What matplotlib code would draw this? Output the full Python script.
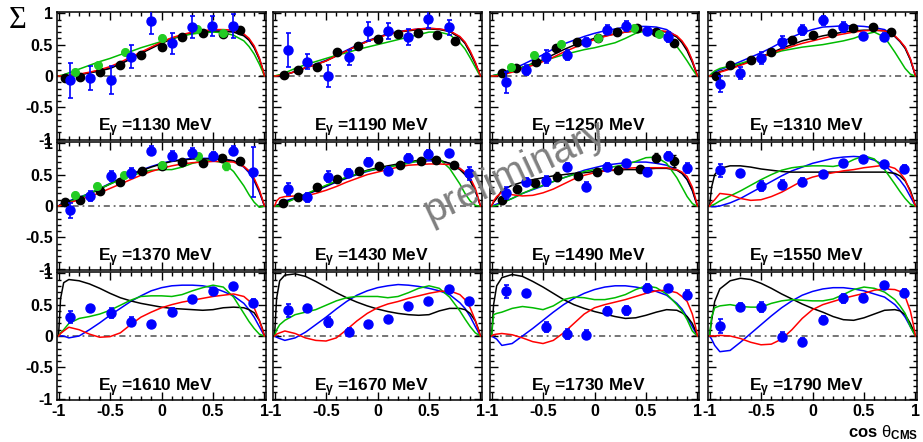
import matplotlib
matplotlib.use('Agg')
import matplotlib.pyplot as plt
from matplotlib.ticker import MultipleLocator, FuncFormatter

plt.rcParams['font.family'] = ['Liberation Sans', 'DejaVu Sans']
plt.rcParams['axes.unicode_minus'] = False
plt.rcParams['mathtext.fontset'] = 'custom'
plt.rcParams['mathtext.rm'] = 'Liberation Sans'
plt.rcParams['mathtext.bf'] = 'Liberation Sans:bold'
plt.rcParams['mathtext.it'] = 'Liberation Sans:bold'

ENERGIES = [1130, 1190, 1250, 1310, 1370, 1430, 1490, 1550, 1610, 1670, 1730, 1790]

# model curves, sampled at XC
XC = [-1.0, -0.98, -0.95, -0.9, -0.8, -0.7, -0.6, -0.5, -0.4, -0.3, -0.2, -0.1, 0.0,
      0.1, 0.2, 0.3, 0.4, 0.5, 0.6, 0.7, 0.8, 0.85, 0.9, 0.95, 0.98, 1.0]

CURVE_BLACK = [
    [0, 0, 0, 0.0, 0.02, 0.05, 0.08, 0.12, 0.19, 0.27, 0.36, 0.44, 0.52, 0.59, 0.64, 0.68, 0.70, 0.71, 0.71, 0.70, 0.64, 0.57, 0.45, 0.27, 0.12, 0],
    [0, 0, 0.01, 0.02, 0.07, 0.13, 0.18, 0.24, 0.32, 0.40, 0.48, 0.55, 0.61, 0.67, 0.70, 0.72, 0.74, 0.75, 0.74, 0.71, 0.61, 0.52, 0.37, 0.20, 0.08, 0],
    [0, 0, 0.01, 0.03, 0.08, 0.14, 0.20, 0.26, 0.34, 0.42, 0.49, 0.55, 0.60, 0.64, 0.67, 0.70, 0.72, 0.73, 0.72, 0.70, 0.62, 0.53, 0.40, 0.22, 0.09, 0],
    [0, 0.01, 0.03, 0.07, 0.12, 0.18, 0.24, 0.31, 0.37, 0.44, 0.50, 0.56, 0.60, 0.64, 0.67, 0.70, 0.72, 0.73, 0.73, 0.72, 0.63, 0.55, 0.44, 0.26, 0.11, 0],
    [0, 0.02, 0.04, 0.07, 0.13, 0.19, 0.27, 0.35, 0.43, 0.50, 0.56, 0.62, 0.67, 0.71, 0.73, 0.75, 0.75, 0.75, 0.74, 0.72, 0.63, 0.55, 0.42, 0.24, 0.10, 0],
    [0, 0.01, 0.03, 0.06, 0.12, 0.18, 0.25, 0.32, 0.39, 0.45, 0.51, 0.57, 0.61, 0.64, 0.67, 0.70, 0.73, 0.75, 0.73, 0.68, 0.58, 0.50, 0.40, 0.24, 0.10, 0],
    [0, 0.06, 0.12, 0.25, 0.33, 0.38, 0.42, 0.45, 0.48, 0.50, 0.52, 0.53, 0.55, 0.56, 0.57, 0.58, 0.58, 0.59, 0.60, 0.60, 0.57, 0.52, 0.42, 0.25, 0.10, 0],
    [0, 0.30, 0.50, 0.60, 0.64, 0.64, 0.62, 0.59, 0.57, 0.55, 0.54, 0.54, 0.54, 0.54, 0.54, 0.54, 0.54, 0.54, 0.54, 0.54, 0.52, 0.48, 0.40, 0.25, 0.11, 0],
    [0, 0.60, 0.85, 0.90, 0.88, 0.83, 0.76, 0.68, 0.61, 0.56, 0.52, 0.49, 0.46, 0.44, 0.43, 0.42, 0.41, 0.42, 0.45, 0.46, 0.45, 0.42, 0.37, 0.25, 0.12, 0],
    [0, 0.60, 0.88, 0.97, 0.99, 0.95, 0.87, 0.78, 0.69, 0.61, 0.54, 0.48, 0.43, 0.39, 0.36, 0.34, 0.33, 0.34, 0.40, 0.44, 0.44, 0.42, 0.36, 0.24, 0.11, 0],
    [0, 0.50, 0.80, 0.93, 0.98, 0.95, 0.87, 0.78, 0.68, 0.58, 0.50, 0.44, 0.39, 0.35, 0.31, 0.28, 0.29, 0.33, 0.38, 0.42, 0.41, 0.37, 0.31, 0.20, 0.09, 0],
    [0, 0.25, 0.55, 0.75, 0.88, 0.92, 0.90, 0.84, 0.76, 0.67, 0.59, 0.51, 0.44, 0.38, 0.31, 0.26, 0.25, 0.29, 0.35, 0.41, 0.42, 0.40, 0.34, 0.20, 0.09, 0],
]

CURVE_RED = [
    [0, 0, 0, 0.01, 0.03, 0.06, 0.10, 0.15, 0.22, 0.30, 0.38, 0.46, 0.54, 0.61, 0.66, 0.70, 0.72, 0.74, 0.74, 0.73, 0.67, 0.60, 0.48, 0.29, 0.13, 0],
    [0, 0, 0.01, 0.02, 0.07, 0.13, 0.18, 0.24, 0.32, 0.40, 0.48, 0.55, 0.61, 0.66, 0.70, 0.73, 0.75, 0.76, 0.75, 0.72, 0.63, 0.54, 0.40, 0.22, 0.09, 0],
    [0, 0, 0.0, 0.02, 0.06, 0.12, 0.17, 0.23, 0.30, 0.38, 0.45, 0.52, 0.58, 0.63, 0.67, 0.70, 0.72, 0.73, 0.73, 0.71, 0.64, 0.56, 0.44, 0.25, 0.10, 0],
    [0, 0.01, 0.03, 0.06, 0.11, 0.17, 0.23, 0.30, 0.36, 0.42, 0.47, 0.52, 0.56, 0.60, 0.64, 0.67, 0.70, 0.72, 0.73, 0.72, 0.64, 0.56, 0.46, 0.28, 0.12, 0],
    [0, 0.01, 0.02, 0.05, 0.10, 0.15, 0.21, 0.28, 0.35, 0.42, 0.49, 0.55, 0.60, 0.64, 0.67, 0.69, 0.70, 0.71, 0.71, 0.70, 0.63, 0.56, 0.44, 0.26, 0.11, 0],
    [0, 0.08, 0.13, 0.15, 0.16, 0.16, 0.20, 0.25, 0.31, 0.38, 0.44, 0.50, 0.54, 0.58, 0.62, 0.65, 0.66, 0.67, 0.67, 0.66, 0.60, 0.54, 0.45, 0.28, 0.12, 0],
    [0, 0.08, 0.15, 0.22, 0.18, 0.16, 0.17, 0.21, 0.27, 0.35, 0.43, 0.49, 0.53, 0.56, 0.58, 0.60, 0.61, 0.61, 0.61, 0.61, 0.58, 0.54, 0.47, 0.30, 0.13, 0],
    [0, 0.05, 0.10, 0.20, 0.18, 0.12, 0.09, 0.10, 0.15, 0.22, 0.31, 0.40, 0.46, 0.50, 0.53, 0.56, 0.58, 0.61, 0.63, 0.65, 0.60, 0.53, 0.42, 0.22, 0.09, 0],
    [0, 0.04, 0.08, 0.14, 0.10, 0.03, -0.02, -0.01, 0.05, 0.18, 0.30, 0.38, 0.45, 0.50, 0.54, 0.57, 0.60, 0.63, 0.65, 0.67, 0.63, 0.56, 0.45, 0.25, 0.10, 0],
    [0, 0.03, 0.05, 0.08, 0.04, -0.03, -0.07, -0.08, -0.03, 0.10, 0.24, 0.36, 0.45, 0.51, 0.55, 0.60, 0.64, 0.68, 0.71, 0.72, 0.66, 0.58, 0.45, 0.25, 0.10, 0],
    [0, 0.02, 0.03, 0.04, 0.02, -0.03, -0.09, -0.12, -0.07, 0.05, 0.20, 0.35, 0.45, 0.50, 0.54, 0.58, 0.63, 0.68, 0.72, 0.73, 0.69, 0.63, 0.55, 0.35, 0.16, 0],
    [0, 0.0, 0.0, 0.01, 0.0, -0.04, -0.10, -0.14, -0.13, -0.05, 0.10, 0.28, 0.42, 0.50, 0.55, 0.60, 0.64, 0.68, 0.73, 0.75, 0.74, 0.71, 0.63, 0.40, 0.18, 0],
]

CURVE_BLUE = [
    [0, 0, 0, 0.01, 0.02, 0.05, 0.09, 0.13, 0.20, 0.28, 0.37, 0.45, 0.53, 0.60, 0.65, 0.69, 0.71, 0.72, 0.72, 0.71, 0.65, 0.58, 0.46, 0.28, 0.12, 0],
    [0, 0, 0.01, 0.02, 0.07, 0.13, 0.19, 0.25, 0.33, 0.41, 0.49, 0.56, 0.62, 0.67, 0.71, 0.73, 0.75, 0.76, 0.75, 0.72, 0.62, 0.53, 0.38, 0.21, 0.08, 0],
    [0, 0.01, 0.02, 0.05, 0.11, 0.18, 0.26, 0.34, 0.43, 0.51, 0.57, 0.63, 0.68, 0.72, 0.75, 0.78, 0.79, 0.79, 0.78, 0.74, 0.63, 0.54, 0.42, 0.24, 0.10, 0],
    [0, 0.03, 0.06, 0.10, 0.16, 0.23, 0.30, 0.37, 0.45, 0.54, 0.62, 0.69, 0.74, 0.78, 0.79, 0.80, 0.80, 0.79, 0.77, 0.74, 0.63, 0.55, 0.45, 0.27, 0.11, 0],
    [0, 0.03, 0.05, 0.08, 0.14, 0.20, 0.28, 0.36, 0.44, 0.51, 0.57, 0.63, 0.68, 0.72, 0.74, 0.76, 0.76, 0.76, 0.75, 0.72, 0.62, 0.53, 0.40, 0.22, 0.09, 0],
    [0, 0.01, 0.03, 0.08, 0.13, 0.18, 0.24, 0.31, 0.38, 0.44, 0.50, 0.55, 0.59, 0.62, 0.66, 0.70, 0.71, 0.72, 0.72, 0.68, 0.60, 0.52, 0.42, 0.25, 0.10, 0],
    [0, 0.01, 0.03, 0.06, 0.12, 0.20, 0.26, 0.32, 0.39, 0.45, 0.51, 0.57, 0.61, 0.65, 0.67, 0.69, 0.70, 0.70, 0.68, 0.65, 0.58, 0.52, 0.42, 0.25, 0.10, 0],
    [0, -0.01, -0.01, 0.0, 0.05, 0.12, 0.21, 0.30, 0.39, 0.48, 0.56, 0.62, 0.68, 0.72, 0.76, 0.78, 0.79, 0.78, 0.73, 0.65, 0.50, 0.41, 0.30, 0.15, 0.06, 0],
    [0, 0.0, 0.0, -0.03, 0.0, 0.10, 0.21, 0.33, 0.44, 0.55, 0.64, 0.72, 0.77, 0.80, 0.81, 0.81, 0.80, 0.77, 0.71, 0.64, 0.52, 0.42, 0.30, 0.15, 0.06, 0],
    [0, -0.02, -0.04, -0.07, -0.03, 0.06, 0.18, 0.30, 0.43, 0.55, 0.65, 0.72, 0.77, 0.80, 0.82, 0.81, 0.79, 0.76, 0.72, 0.66, 0.53, 0.44, 0.31, 0.15, 0.06, 0],
    [0, -0.02, -0.05, -0.15, -0.12, 0.0, 0.12, 0.25, 0.38, 0.50, 0.60, 0.68, 0.74, 0.78, 0.80, 0.80, 0.78, 0.75, 0.71, 0.65, 0.52, 0.43, 0.30, 0.15, 0.06, 0],
    [0, -0.05, -0.15, -0.25, -0.23, -0.10, 0.04, 0.18, 0.32, 0.45, 0.56, 0.65, 0.71, 0.75, 0.77, 0.77, 0.75, 0.72, 0.67, 0.62, 0.50, 0.41, 0.30, 0.15, 0.06, 0],
]

CURVE_GREEN = [
    [0, 0.01, 0.02, 0.05, 0.11, 0.17, 0.23, 0.28, 0.34, 0.39, 0.45, 0.50, 0.55, 0.60, 0.64, 0.67, 0.69, 0.70, 0.69, 0.65, 0.56, 0.47, 0.35, 0.19, 0.08, 0],
    [0, 0.01, 0.02, 0.05, 0.12, 0.18, 0.23, 0.28, 0.33, 0.37, 0.42, 0.46, 0.50, 0.54, 0.58, 0.62, 0.66, 0.70, 0.70, 0.66, 0.53, 0.43, 0.29, 0.14, 0.05, 0],
    [0, 0.01, 0.02, 0.04, 0.09, 0.14, 0.19, 0.24, 0.29, 0.34, 0.38, 0.42, 0.45, 0.49, 0.53, 0.60, 0.68, 0.72, 0.71, 0.64, 0.47, 0.36, 0.24, 0.11, 0.04, 0],
    [0, 0.04, 0.08, 0.12, 0.16, 0.20, 0.25, 0.30, 0.35, 0.40, 0.43, 0.46, 0.48, 0.50, 0.53, 0.56, 0.60, 0.66, 0.70, 0.62, 0.38, 0.25, 0.12, 0.03, 0.01, 0],
    [0, 0.01, 0.02, 0.06, 0.13, 0.20, 0.28, 0.35, 0.42, 0.48, 0.53, 0.57, 0.58, 0.58, 0.62, 0.68, 0.72, 0.72, 0.69, 0.55, 0.32, 0.18, 0.06, -0.02, -0.01, 0],
    [0, 0.0, 0.0, 0.04, 0.12, 0.19, 0.26, 0.33, 0.40, 0.46, 0.51, 0.56, 0.59, 0.62, 0.65, 0.68, 0.72, 0.76, 0.75, 0.60, 0.35, 0.20, 0.08, 0.01, 0.0, 0],
    [0, 0.0, 0.01, 0.05, 0.12, 0.20, 0.27, 0.33, 0.39, 0.45, 0.50, 0.55, 0.58, 0.60, 0.63, 0.66, 0.71, 0.77, 0.78, 0.68, 0.45, 0.30, 0.15, 0.04, 0.01, 0],
    [0, 0.01, 0.03, 0.08, 0.16, 0.24, 0.33, 0.42, 0.50, 0.57, 0.61, 0.63, 0.64, 0.64, 0.63, 0.66, 0.74, 0.80, 0.75, 0.58, 0.35, 0.23, 0.12, 0.03, 0.01, 0],
    [0, 0.05, 0.10, 0.20, 0.28, 0.31, 0.35, 0.41, 0.49, 0.57, 0.63, 0.64, 0.64, 0.63, 0.66, 0.72, 0.77, 0.81, 0.78, 0.62, 0.36, 0.23, 0.12, 0.03, 0.01, 0],
    [0, 0.10, 0.18, 0.25, 0.34, 0.38, 0.42, 0.49, 0.56, 0.61, 0.63, 0.63, 0.63, 0.61, 0.63, 0.69, 0.76, 0.80, 0.76, 0.62, 0.40, 0.27, 0.15, 0.05, 0.02, 0],
    [0, 0.34, 0.36, 0.38, 0.44, 0.47, 0.45, 0.42, 0.48, 0.58, 0.62, 0.61, 0.58, 0.58, 0.61, 0.66, 0.74, 0.80, 0.77, 0.67, 0.50, 0.40, 0.26, 0.08, 0.03, 0],
    [0, 0.30, 0.45, 0.48, 0.50, 0.47, 0.46, 0.46, 0.52, 0.56, 0.58, 0.57, 0.56, 0.56, 0.59, 0.66, 0.74, 0.78, 0.76, 0.70, 0.58, 0.48, 0.36, 0.15, 0.06, 0],
]

# blue data points
BLUE_X = [
    [-0.89, -0.69, -0.49, -0.30, -0.10, 0.10, 0.30, 0.49, 0.69],
    [-0.87, -0.68, -0.48, -0.28, -0.09, 0.10, 0.30, 0.49, 0.69],
    [-0.86, -0.67, -0.47, -0.27, -0.08, 0.12, 0.31, 0.51, 0.71],
    [-0.90, -0.70, -0.50, -0.30, -0.10, 0.10, 0.30, 0.49, 0.69],
    [-0.89, -0.69, -0.49, -0.30, -0.10, 0.10, 0.30, 0.50, 0.69, 0.89],
    [-0.87, -0.68, -0.48, -0.29, -0.09, 0.10, 0.30, 0.49, 0.69, 0.89],
    [-0.86, -0.67, -0.47, -0.27, -0.08, 0.12, 0.31, 0.51, 0.71, 0.90],
    [-0.90, -0.70, -0.50, -0.30, -0.10, 0.10, 0.30, 0.49, 0.69, 0.89],
    [-0.89, -0.69, -0.49, -0.30, -0.10, 0.10, 0.30, 0.50, 0.69, 0.89],
    [-0.87, -0.68, -0.48, -0.28, -0.09, 0.10, 0.30, 0.49, 0.69, 0.89],
    [-0.86, -0.67, -0.47, -0.27, -0.08, 0.12, 0.31, 0.51, 0.71, 0.90],
    [-0.90, -0.70, -0.50, -0.30, -0.10, 0.10, 0.30, 0.49, 0.69, 0.89],
]
BLUE_Y = [
    [-0.07, -0.03, -0.06, 0.31, 0.87, 0.52, 0.78, 0.79, 0.80],
    [0.42, 0.23, 0.0, 0.30, 0.71, 0.72, 0.62, 0.91, 0.78],
    [-0.10, 0.10, 0.31, 0.33, 0.54, 0.74, 0.79, 0.71, 0.62],
    [-0.13, 0.05, 0.29, 0.54, 0.73, 0.89, 0.78, 0.63, 0.62],
    [-0.07, 0.16, 0.48, 0.52, 0.88, 0.80, 0.85, 0.80, 0.88, 0.54],
    [0.27, 0.14, 0.47, 0.53, 0.70, 0.56, 0.77, 0.83, 0.84, 0.52],
    [0.21, 0.39, 0.40, 0.62, 0.31, 0.62, 0.68, 0.54, 0.80, 0.60],
    [0.57, 0.52, 0.32, 0.34, 0.38, 0.51, 0.68, 0.75, 0.67, 0.59],
    [0.30, 0.44, 0.36, 0.23, 0.19, 0.39, 0.59, 0.71, 0.80, 0.53],
    [0.41, 0.44, 0.23, 0.07, 0.19, 0.27, 0.48, 0.56, 0.75, 0.55],
    [0.71, 0.68, 0.15, 0.03, 0.02, 0.40, 0.41, 0.77, 0.76, 0.66],
    [0.16, 0.47, 0.46, -0.01, -0.09, 0.26, 0.60, 0.61, 0.81, 0.69],
]
BLUE_ERR = [
    [0.28, 0.19, 0.22, 0.19, 0.20, 0.17, 0.17, 0.16, 0.19],
    [0.27, 0.12, 0.18, 0.12, 0.15, 0.13, 0.13, 0.15, 0.12],
    [0.17, 0.08, 0.10, 0.08, 0.06, 0.07, 0.08, 0.06, 0.08],
    [0.13, 0.09, 0.10, 0.10, 0.08, 0.07, 0.08, 0.06, 0.07],
    [0.12, 0.08, 0.08, 0.08, 0.07, 0.07, 0.07, 0.06, 0.07, 0.40],
    [0.10, 0.07, 0.08, 0.06, 0.07, 0.06, 0.06, 0.06, 0.05, 0.10],
    [0.10, 0.06, 0.08, 0.06, 0.07, 0.07, 0.06, 0.06, 0.06, 0.08],
    [0.10, 0.06, 0.08, 0.07, 0.06, 0.05, 0.05, 0.05, 0.05, 0.07],
    [0.10, 0.06, 0.08, 0.07, 0.05, 0.05, 0.05, 0.05, 0.04, 0.06],
    [0.10, 0.05, 0.08, 0.06, 0.05, 0.05, 0.05, 0.05, 0.04, 0.06],
    [0.10, 0.06, 0.08, 0.08, 0.07, 0.07, 0.07, 0.06, 0.06, 0.07],
    [0.11, 0.06, 0.08, 0.07, 0.06, 0.06, 0.07, 0.06, 0.04, 0.06],
]

# black data points (only up to 1490 MeV)
BLACK_X = [
    [-0.94, -0.79, -0.60, -0.40, -0.20, 0.0, 0.20, 0.40, 0.60, 0.76],
    [-0.91, -0.77, -0.59, -0.39, -0.19, 0.0, 0.20, 0.39, 0.58, 0.75],
    [-0.90, -0.76, -0.57, -0.37, -0.17, 0.03, 0.22, 0.41, 0.60, 0.77],
    [-0.94, -0.80, -0.60, -0.40, -0.20, 0.0, 0.19, 0.39, 0.59, 0.76],
    [-0.94, -0.79, -0.60, -0.40, -0.19, 0.0, 0.20, 0.40, 0.59, 0.76],
    [-0.92, -0.77, -0.59, -0.39, -0.18, 0.01, 0.22, 0.42, 0.57, 0.74],
    [-0.90, -0.75, -0.58, -0.36, -0.16, 0.02, 0.23, 0.44, 0.60, 0.77],
    [], [], [], [], [],
]
BLACK_Y = [
    [-0.03, -0.02, 0.06, 0.17, 0.34, 0.46, 0.62, 0.68, 0.67, 0.74],
    [0.01, 0.09, 0.14, 0.39, 0.48, 0.59, 0.67, 0.69, 0.66, 0.56],
    [0.05, 0.13, 0.23, 0.44, 0.54, 0.61, 0.70, 0.76, 0.70, 0.53],
    [0.0, 0.18, 0.26, 0.39, 0.57, 0.66, 0.69, 0.76, 0.78, 0.70],
    [0.07, 0.10, 0.24, 0.39, 0.55, 0.63, 0.70, 0.68, 0.76, 0.72],
    [0.05, 0.15, 0.31, 0.43, 0.55, 0.64, 0.66, 0.71, 0.74, 0.65],
    [0.09, 0.27, 0.37, 0.47, 0.48, 0.54, 0.57, 0.59, 0.77, 0.72],
    [], [], [], [], [],
]
BLACK_ERR = [
    [0.02] * 10, [0.02] * 10, [0.02] * 10, [0.02] * 10, [0.02] * 10, [0.02] * 10,
    [0.06, 0.03, 0.03, 0.07, 0.04, 0.03, 0.03, 0.03, 0.07, 0.10],
    [], [], [], [], [],
]

# green data points (1130, 1250, 1370 MeV)
GREEN_X = [
    [-0.84, -0.62, -0.35, 0.0, 0.34, 0.60], [],
    [-0.81, -0.59, -0.33, 0.03, 0.38, 0.63], [],
    [-0.84, -0.63, -0.36, 0.0, 0.35, 0.63], [], [], [], [], [], [], [],
]
GREEN_Y = [
    [0.06, 0.18, 0.38, 0.60, 0.75, 0.68], [],
    [0.14, 0.34, 0.51, 0.61, 0.77, 0.67], [],
    [0.18, 0.32, 0.49, 0.65, 0.79, 0.63], [], [], [], [], [], [], [],
]
GREEN_ERR = [
    [0.05] * 6, [], [0.04] * 6, [], [0.05] * 6, [], [], [], [], [], [], [],
]

W, H = 923, 442
fig = plt.figure(figsize=(W / 100, H / 100), dpi=100)

col_left = [57, 273, 490, 708]
row_top = [12, 142, 272]
pw, ph = 209, 128

fmt = FuncFormatter(lambda v, p: '%g' % (round(v, 2) + 0.0))

for i, e in enumerate(ENERGIES):
    r, c = divmod(i, 4)
    ax = fig.add_axes([col_left[c] / W, 1 - (row_top[r] + ph) / H, pw / W, ph / H])
    ax.set_xlim(-1.015, 1.015)
    ax.set_ylim(-1.02, 1.02)
    ax.axhline(0, color='#505050', lw=1.1, dashes=[4, 2.5, 1.2, 2.5], zorder=1)

    ax.plot(XC, CURVE_BLUE[i], color='#0000ff', lw=1.1, zorder=2)
    ax.plot(XC, CURVE_BLACK[i], color='black', lw=1.1, zorder=2)
    ax.plot(XC, CURVE_GREEN[i], color='#00bb00', lw=1.1, zorder=2)
    ax.plot(XC, CURVE_RED[i], color='#ff0000', lw=1.1, zorder=2)

    if BLACK_X[i]:
        ax.errorbar(BLACK_X[i], BLACK_Y[i], yerr=BLACK_ERR[i], fmt='o', color='black',
                    ms=6, elinewidth=1, capsize=1.5, zorder=3)
    if GREEN_X[i]:
        ax.errorbar(GREEN_X[i], GREEN_Y[i], yerr=GREEN_ERR[i], fmt='o', color='#22cc22',
                    ms=5.5, elinewidth=1, capsize=1.5, zorder=3)
    ax.errorbar(BLUE_X[i], BLUE_Y[i], yerr=BLUE_ERR[i], fmt='o', color='#0000ff',
                ms=6.5, elinewidth=1.2, capsize=1.8, capthick=1.2, zorder=4)

    ax.text(-0.06, -0.83, r'E$_{\gamma}$ =%d MeV' % e, ha='center', va='center',
            fontsize=12.5, fontweight='bold')

    ax.xaxis.set_major_locator(MultipleLocator(0.5))
    ax.xaxis.set_minor_locator(MultipleLocator(0.1))
    ax.yaxis.set_major_locator(MultipleLocator(0.5))
    ax.yaxis.set_minor_locator(MultipleLocator(0.1))
    ax.xaxis.set_major_formatter(fmt)
    ax.yaxis.set_major_formatter(fmt)
    ax.tick_params(which='both', direction='in', top=True, right=True, width=1)
    ax.tick_params(which='major', length=6, labelsize=11.5, pad=3)
    ax.tick_params(which='minor', length=3)
    for lab in ax.get_xticklabels() + ax.get_yticklabels():
        lab.set_fontweight('bold')
    ax.tick_params(labelleft=(c == 0), labelbottom=(r == 2))
    for s in ax.spines.values():
        s.set_linewidth(1.1)

fig.text(18 / W, 1 - 20 / H, 'Σ', family=['Liberation Serif', 'DejaVu Serif'],
         fontsize=22, ha='center', va='center')
fig.text(918 / W, 1 - 437 / H, r'cos $\mathrm{\theta}_{\mathbf{CMS}}$', ha='right',
         va='baseline', fontsize=12, fontweight='bold')
fig.text(515 / W, 1 - 172 / H, 'preliminary', rotation=25, fontsize=29, color='#808080',
         ha='center', va='center', zorder=10)

fig.savefig('out.png', dpi=100)
